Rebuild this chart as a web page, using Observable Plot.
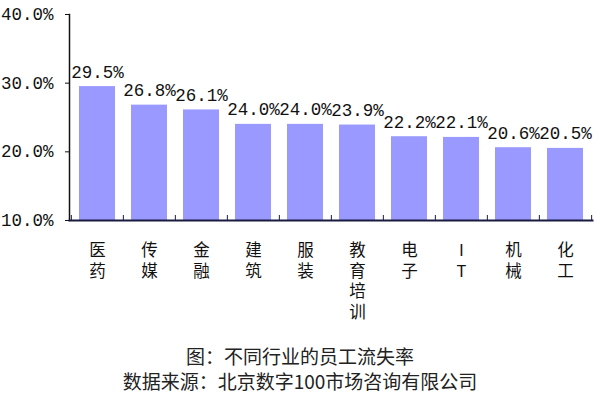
<!DOCTYPE html>
<html>
<head>
<meta charset="utf-8">
<script src="https://cdn.jsdelivr.net/npm/d3@7"></script>
<script src="https://cdn.jsdelivr.net/npm/@observablehq/plot@0.6"></script>
<style>
  body { margin: 0; background: white; }
  #caption { text-align: center; font-family: "Noto Sans CJK SC", sans-serif; font-size: 19px; color: #222; line-height: 25px; padding-top: 3px; }
</style>
</head>
<body>
<div id="chart"></div>
<div id="caption">
  <div>图：不同行业的员工流失率</div>
  <div>数据来源：北京数字100市场咨询有限公司</div>
</div>
<script>
const categories = ["医药", "传媒", "金融", "建筑", "服装", "教育培训", "电子", "IT", "机械", "化工"];
const rates = [29.5, 26.8, 26.1, 24.0, 24.0, 23.9, 22.2, 22.1, 20.6, 20.5];
const yTicks = [10, 20, 30, 40];

const data = categories.map((c, i) => ({category: c, rate: rates[i]}));

const W = 600, H = 340, ML = 69, MR = 8, MT = 14, MB = 120;
const step = (W - ML - MR) / categories.length;
const mono = "'Liberation Mono', 'DejaVu Sans Mono', monospace";

const chart = Plot.plot({
  width: W, height: H,
  marginLeft: ML, marginRight: MR, marginTop: MT, marginBottom: MB,
  style: {background: "white", color: "#111", fontFamily: mono},
  x: {domain: categories, paddingInner: 0.31, paddingOuter: 0.155, axis: null},
  y: {domain: [yTicks[0], yTicks[yTicks.length - 1]], axis: null},
  marks: [
    Plot.barY(data, {x: "category", y1: yTicks[0], y2: "rate", fill: "#9999ff"}),
    Plot.axisY({ticks: yTicks, tickFormat: d => d.toFixed(1) + "%", tickSize: 4, tickPadding: 12, fontSize: 17.5, fontFamily: mono, label: null, stroke: "#111", fill: "#111"}),
    Plot.axisX({ticks: categories, tickFormat: () => "", tickSize: 5, dx: -step / 2, dy: -5, label: null, stroke: "#1a1a40"}),
    Plot.axisX({ticks: [categories[categories.length - 1]], tickFormat: () => "", tickSize: 5, dx: step / 2, dy: -5, label: null, stroke: "#1a1a40"}),
    Plot.frame({anchor: "left", stroke: "#111", strokeWidth: 1.5}),
    Plot.frame({anchor: "bottom", stroke: "#1a1a40", strokeWidth: 2}),
    Plot.text(data, {x: "category", y: "rate", text: d => d.rate.toFixed(1) + "%", lineAnchor: "bottom", dy: -9, fontSize: 17.5, fontFamily: mono, fill: "#111"}),
    Plot.text(data, {x: "category", frameAnchor: "bottom", text: d => [...d.category].join("\n"), lineAnchor: "top", lineHeight: 1.25, dy: 21, fontSize: 16.5, fontFamily: "'Noto Sans CJK SC', sans-serif", fill: "#111"})
  ]
});
document.getElementById("chart").append(chart);
</script>
</body>
</html>
